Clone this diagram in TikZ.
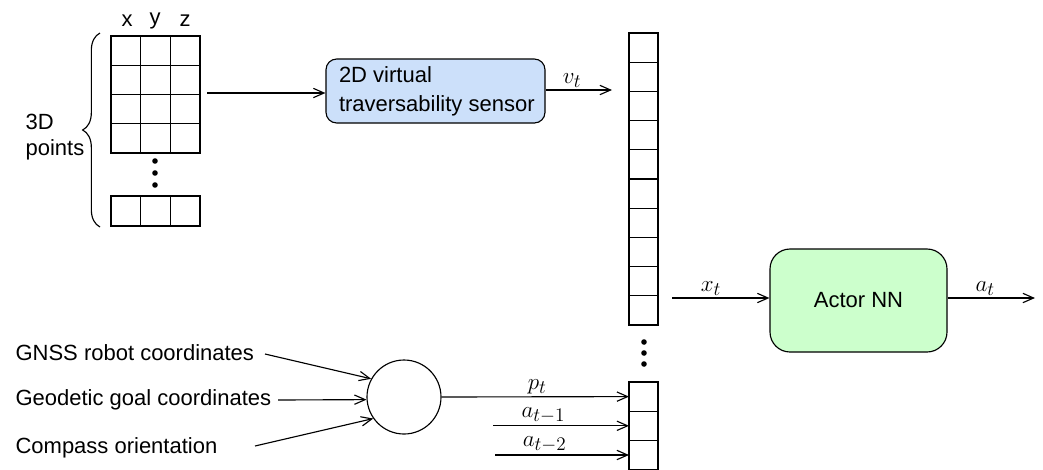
\documentclass[tikz,border=0pt]{standalone}
\usepackage{fontspec}
\setmainfont{Liberation Sans}
\usetikzlibrary{arrows.meta,decorations.pathreplacing,calc}
\begin{document}
\begin{tikzpicture}[x=0.75pt,y=-0.75pt,line width=0.85pt,
  every node/.style={font=\fontsize{16.5}{19}\selectfont},
  block/.style={draw,inner sep=0pt,outer sep=0pt},
  arr/.style={-{Straight Barb[length=8pt,width=7pt]}},
  dot/.style={circle,fill,inner sep=0pt,minimum size=4.2pt},
  lbl/.style={above,inner sep=1.5pt,font=\fontsize{19}{22}\selectfont},
  txt/.style={anchor=west,inner xsep=0pt}]
\clip (0,0) rectangle (1043,469);
% 3D point grid
\node[block,minimum width=66.75pt,minimum height=87.75pt] (grid) at (155.5,94.5) {};
\foreach \c in {1,2}{
  \draw ($(grid.north west)!\c/3!(grid.north east)$) -- ($(grid.south west)!\c/3!(grid.south east)$);
}
\foreach \r in {1,2,3}{
  \draw ($(grid.north west)!\r/4!(grid.south west)$) -- ($(grid.north east)!\r/4!(grid.south east)$);
}
\node[block,minimum width=66.75pt,minimum height=22.5pt] (last) at (155.5,211) {};
\foreach \c in {1,2}{
  \draw ($(last.north west)!\c/3!(last.north east)$) -- ($(last.south west)!\c/3!(last.south east)$);
}
\node (lx) at (127,21) {x};
\node (ly) at (155,21) {y};
\node (lz) at (185,21) {z};
\node[dot] (gd1) at (155,161) {};
\node[dot] (gd2) at (155,173) {};
\node[dot] (gd3) at (155,185) {};
\draw[decorate,decoration={brace,amplitude=13pt}] (100,227) -- (100,33);
\node[txt,align=left,font=\fontsize{16.5}{19.5}\selectfont] (pts) at (25,137) {3D\\points};
% sensor
\node[draw,rounded corners=8pt,fill={rgb,255:red,204;green,224;blue,250},
  minimum width=164.25pt,minimum height=48pt] (sens) at (435.5,91) {};
\node[txt,align=left,font=\fontsize{16.5}{21.75}\selectfont] (senst) at ([xshift=9.75pt]sens.west) {2D virtual\\traversability sensor};
\coordinate (gout) at (207,93);
\draw[arr] (gout) -- (gout -| sens.west);
\coordinate (vend) at (612,90);
\draw[arr] (sens.east |- vend) -- node[lbl,pos=0.4] {$v_t$} (vend);
% state vector
\node[block,minimum width=21.75pt,minimum height=219pt] (state) at (643.5,179) {};
\foreach \i in {1,...,9}{
  \draw ($(state.north west)!\i/10!(state.south west)$) -- ($(state.north east)!\i/10!(state.south east)$);
}
\node[dot] (sd1) at (644,342) {};
\node[dot] (sd2) at (644,353) {};
\node[dot] (sd3) at (644,364) {};
\node[block,minimum width=21.75pt,minimum height=65.7pt] (bot) at (643.5,425.8) {};
\coordinate (b1) at ($(bot.north west)!1/6!(bot.south west)$);
\coordinate (b2) at ($(bot.north west)!3/6!(bot.south west)$);
\coordinate (b3) at ($(bot.north west)!5/6!(bot.south west)$);
\draw ($(bot.north west)!1/3!(bot.south west)$) -- ($(bot.north east)!1/3!(bot.south east)$);
\draw ($(bot.north west)!2/3!(bot.south west)$) -- ($(bot.north east)!2/3!(bot.south east)$);
% actor
\node[draw,rounded corners=15pt,fill={rgb,255:red,204;green,255;blue,204},
  minimum width=132.75pt,minimum height=77.25pt] (actor) at (858.5,300.5) {Actor NN};
\coordinate (xs) at (672,298);
\draw[arr] (xs) -- node[lbl,pos=0.4] {$x_t$} (xs -| actor.west);
\coordinate (aend) at (1035,298);
\draw[arr] (actor.east |- aend) -- node[lbl,pos=0.43] {$a_t$} (aend);
% position inputs
\node[draw,circle,minimum size=55.5pt,inner sep=0pt] (circ) at (404,397) {};
\node[txt] (gnss) at (15,353) {GNSS robot coordinates};
\node[txt] (geo) at (15,400) {Geodetic goal coordinates};
\node[txt] (comp) at (15,448) {Compass orientation};
\coordinate (gnsss) at (265,354);
\coordinate (geos) at (278,400);
\coordinate (comps) at (255,446);
\draw[arr] (gnsss) -- (circ.151);
\draw[arr] (geos) -- (circ.184);
\draw[arr] (comps) -- (circ.215);
\draw[arr] (circ.east) -- node[lbl,pos=0.51] {$p_t$} (b1);
\coordinate (a1s) at (493,0 |- b2);
\coordinate (a2s) at (495,0 |- b3);
\draw[arr] (a1s) -- node[lbl,pos=0.37] {$a_{t-1}$} (b2);
\draw[arr] (a2s) -- node[lbl,pos=0.37] {$a_{t-2}$} (b3);
\end{tikzpicture}
\end{document}
